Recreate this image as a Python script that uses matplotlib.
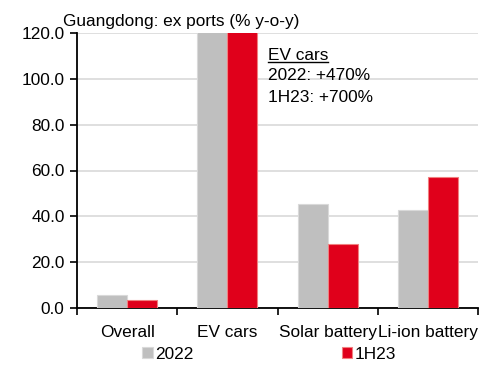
import matplotlib
matplotlib.use("Agg")
import matplotlib.pyplot as plt
import numpy as np

plt.rcParams['font.family'] = ['Liberation Sans', 'DejaVu Sans']

categories = ["Overall", "EV cars", "Solar battery", "Li-ion battery"]
series_names = ["2022", "1H23"]
values_2022 = [5.7, 470.0, 45.3, 42.7]
values_1h23 = [3.7, 700.0, 28.0, 57.2]
yticks = [0, 20, 40, 60, 80, 100, 120]
title = "Guangdong: ex ports (% y-o-y)"
note_head = "EV cars"
note_lines = ["2022: +470%", "1H23: +700%"]

gray = "#BFBFBF"
red = "#E0001B"
FS = 12.4
W, H = 479, 365

fig = plt.figure(figsize=(W/100, H/100), dpi=100)
ax = fig.add_axes([77/W, 1-308/H, (478-77)/W, (308-33)/H])

x = np.arange(len(categories))
w = 0.3
ax.bar(x - 0.15, values_2022, w, color=gray, edgecolor="#D9D9D9", linewidth=0.8, label=series_names[0], zorder=3)
ax.bar(x + 0.15, values_1h23, w, color=red, edgecolor="#F08080", linewidth=0.8, label=series_names[1], zorder=3)

ax.set_xlim(-0.5, len(categories) - 0.5)
ax.set_ylim(0, 120)
ax.set_yticks(yticks)
ax.set_yticklabels([f"{v:.1f}" for v in yticks], fontsize=FS)
ax.yaxis.grid(True, color="#D9D9D9", linewidth=1.2, zorder=0)
ax.set_axisbelow(True)

ax.set_xticks(np.arange(len(categories) + 1) - 0.5)
ax.set_xticklabels([])
ax.set_xticks(x, minor=True)
ax.set_xticklabels(categories, minor=True, fontsize=FS)
ax.tick_params(axis='x', which='minor', length=0, pad=12)
ax.tick_params(axis='x', which='major', length=5, width=1.2, direction='out')
ax.tick_params(axis='y', length=5, width=1.2, direction='out', pad=4)

for s in ["top", "right"]:
    ax.spines[s].set_visible(False)
for s in ["left", "bottom"]:
    ax.spines[s].set_linewidth(1.3)
    ax.spines[s].set_color("black")

def ptext(px, py, s, **kw):
    return fig.text(px/W, 1-py/H, s, fontsize=FS, va='baseline', ha='left', **kw)

ptext(63, 26, title)
t = ptext(268, 60, note_head)
ptext(268, 80, note_lines[0])
ptext(268, 102, note_lines[1])
fig.canvas.draw()
bb = t.get_window_extent()
fig.add_artist(plt.Line2D([bb.x0/W/1.0*1, bb.x1/W], [1-62/H, 1-62/H], transform=fig.transFigure, color='black', lw=1.0))

leg = fig.legend(loc='lower left', bbox_to_anchor=(132/W, -0.02), ncol=2, frameon=False,
                 fontsize=FS, handlelength=0.6, handleheight=0.6, handletextpad=0.15,
                 columnspacing=8.6, borderpad=0.1)

fig.savefig("out.png", dpi=100)
